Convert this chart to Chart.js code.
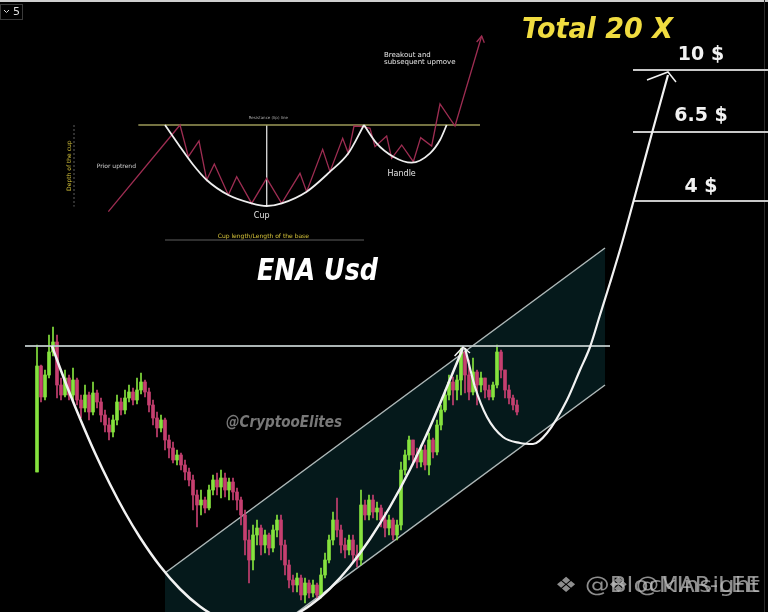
<!DOCTYPE html>
<html>
<head>
<meta charset="utf-8">
<script src="https://cdn.jsdelivr.net/npm/chart.js@4.4.1/dist/chart.umd.min.js"></script>
<style>
html, body { margin: 0; padding: 0; background: #000; overflow: hidden; }
canvas { display: block; }
</style>
</head>
<body>
<canvas id="grafica" width="768" height="612"></canvas>
<script>
// velas de ENA/USD (precio en $), la apertura de cada vela es el cierre anterior
let aperturaInicial = 0.712;
let cierres = [
    1.136, 1.012, 1.10, 1.192, 1.232, 1.06, 1.02, 1.088, 1.02, 1.08,
    1.00, 0.968, 1.02, 0.952, 1.028, 0.992, 0.94, 0.90, 0.872, 0.92,
    0.992, 0.96, 1.008, 1.032, 1.00, 1.04, 1.072, 1.032, 0.98, 0.928,
    0.888, 0.92, 0.84, 0.808, 0.76, 0.78, 0.74, 0.712, 0.68, 0.62,
    0.58, 0.60, 0.568, 0.64, 0.68, 0.652, 0.688, 0.64, 0.672, 0.632,
    0.60, 0.54, 0.44, 0.36, 0.46, 0.488, 0.42, 0.46, 0.408, 0.48,
    0.52, 0.42, 0.34, 0.28, 0.26, 0.288, 0.22, 0.268, 0.228, 0.26,
    0.22, 0.30, 0.36, 0.44, 0.52, 0.48, 0.42, 0.40, 0.44, 0.38,
    0.36, 0.58, 0.54, 0.60, 0.552, 0.568, 0.52, 0.488, 0.52, 0.46,
    0.50, 0.72, 0.78, 0.84, 0.78, 0.752, 0.80, 0.74, 0.84, 0.792,
    0.90, 0.96, 1.02, 1.072, 1.04, 1.08, 1.192, 1.10, 1.032, 1.112,
    1.06, 1.088, 1.04, 1.012, 1.06, 1.192, 1.12, 1.04, 1.008, 0.98,
    0.952
];
let maximos = [
    1.22, 1.14, 1.12, 1.26, 1.292, 1.26, 1.088, 1.12, 1.10, 1.128,
    1.088, 1.02, 1.06, 1.032, 1.072, 1.04, 1.008, 0.96, 0.928, 0.94,
    1.02, 1.008, 1.04, 1.06, 1.048, 1.088, 1.108, 1.08, 1.048, 1.00,
    0.952, 0.94, 0.928, 0.86, 0.832, 0.80, 0.788, 0.76, 0.728, 0.70,
    0.64, 0.64, 0.612, 0.66, 0.70, 0.708, 0.72, 0.708, 0.688, 0.688,
    0.648, 0.612, 0.56, 0.48, 0.50, 0.52, 0.50, 0.48, 0.468, 0.50,
    0.54, 0.54, 0.44, 0.36, 0.30, 0.308, 0.30, 0.288, 0.28, 0.28,
    0.268, 0.328, 0.388, 0.46, 0.552, 0.608, 0.50, 0.448, 0.46, 0.46,
    0.42, 0.64, 0.60, 0.62, 0.62, 0.592, 0.58, 0.552, 0.54, 0.528,
    0.52, 0.752, 0.80, 0.856, 0.84, 0.808, 0.82, 0.82, 0.868, 0.848,
    0.92, 0.98, 1.04, 1.10, 1.092, 1.10, 1.208, 1.192, 1.16, 1.168,
    1.12, 1.112, 1.088, 1.06, 1.072, 1.22, 1.20, 1.12, 1.06, 1.02,
    1.00
];
let minimos = [
    0.712, 0.992, 1.00, 1.088, 1.176, 1.008, 1.00, 1.012, 1.00, 0.992,
    0.98, 0.928, 0.952, 0.92, 0.94, 0.968, 0.912, 0.872, 0.84, 0.852,
    0.90, 0.94, 0.944, 0.992, 0.98, 0.984, 1.024, 1.012, 0.952, 0.90,
    0.852, 0.872, 0.80, 0.768, 0.748, 0.74, 0.72, 0.68, 0.656, 0.56,
    0.492, 0.54, 0.548, 0.56, 0.62, 0.62, 0.608, 0.612, 0.60, 0.60,
    0.56, 0.50, 0.38, 0.268, 0.32, 0.42, 0.38, 0.388, 0.38, 0.392,
    0.452, 0.36, 0.30, 0.248, 0.232, 0.232, 0.20, 0.188, 0.208, 0.212,
    0.208, 0.208, 0.288, 0.348, 0.42, 0.452, 0.388, 0.368, 0.38, 0.352,
    0.332, 0.34, 0.52, 0.52, 0.528, 0.52, 0.492, 0.452, 0.46, 0.44,
    0.44, 0.48, 0.70, 0.76, 0.74, 0.728, 0.732, 0.72, 0.70, 0.768,
    0.78, 0.88, 0.952, 1.00, 0.98, 1.00, 1.02, 1.028, 1.00, 1.02,
    0.98, 1.032, 1.008, 1.00, 1.00, 1.048, 1.088, 1.008, 0.984, 0.96,
    0.94
];

// dibujo sobre el grafico (x = numero de vela, y = precio)
let resistencia = 1.216;
let resistenciaX = [-3, 143.25];
let canalX = [32, 142];
let canalArriba = [0.308, 1.608];
let canalAbajo = [-0.24, 1.06];
let tazaX = [3.75, 5.75, 8.25, 10.75, 14.5, 18.25, 22, 25.75, 30.75, 35.75, 40.75, 45.75, 50.75, 54, 58.25, 63.25, 68.25, 73.25, 78.25, 83.25, 88.25, 93.25, 98.25, 103.25, 106.5];
let tazaY = [1.216, 1.128, 1.024, 0.926, 0.788, 0.663, 0.55, 0.45, 0.336, 0.244, 0.174, 0.126, 0.101, 0.096, 0.103, 0.131, 0.178, 0.246, 0.335, 0.444, 0.573, 0.722, 0.892, 1.082, 1.208];
let asaX = [107, 109.5, 112.5, 116.5, 120.75, 124, 127.5, 132.5, 135.75, 138.25, 140.75, 143.25, 146.25, 149.75, 153.75, 157.75];
let asaY = [1.208, 1.052, 0.932, 0.852, 0.828, 0.824, 0.868, 1.00, 1.12, 1.212, 1.34, 1.468, 1.628, 1.832, 2.068, 2.30];
let flechaTazaX = [104.4, 106.5, 108.25];
let flechaTazaY = [1.176, 1.212, 1.188];
let flechaAsaX = [152.5, 157.75, 159.75];
let flechaAsaY = [2.28, 2.312, 2.272];
let objetivos = [2.32, 2.072, 1.796];
let objetivosX = [149, 183];
let objetivosTexto = ["10 $", "6.5 $", "4 $"];

// esquema de taza y asa (unidades propias del esquema)
let esqResistenciaX = [415, 1440];
let esqResistenciaY = 375;
let esqZigX = [325, 540, 565, 597, 620, 643, 685, 710, 755, 800, 845, 900, 920, 968, 990, 1028, 1045, 1062, 1090, 1110, 1125, 1160, 1175, 1205, 1240, 1262, 1295, 1320, 1365, 1445];
let esqZigY = [635, 375, 470, 423, 540, 492, 585, 530, 610, 535, 610, 520, 575, 448, 515, 415, 460, 378, 380, 385, 440, 408, 475, 435, 485, 413, 438, 312, 378, 108];
let esqTazaX = [495, 540, 580, 620, 685, 755, 800, 845, 920, 990, 1045, 1092];
let esqTazaY = [375, 440, 495, 540, 585, 610, 618, 610, 575, 515, 460, 375];
let esqAsaX = [1092, 1130, 1180, 1235, 1290, 1320, 1340];
let esqAsaY = [375, 430, 470, 488, 460, 420, 375];
let esqFlechaX = [1430, 1445, 1453];
let esqFlechaY = [126, 108, 128];

let verde = "#86e23e";
let rojo = "#c63f70";

let cuerpos = [], mechas = [], colores = [];
for (let i = 0; i < cierres.length; i++) {
    let apertura = i === 0 ? aperturaInicial : cierres[i - 1];
    cuerpos.push({ x: i, y: [apertura, cierres[i]] });
    mechas.push({ x: i, y: [minimos[i], maximos[i]] });
    colores.push(cierres[i] >= apertura ? verde : rojo);
}

function puntos(xs, ys) {
    return xs.map((x, i) => ({ x: x, y: Array.isArray(ys) ? ys[i] : ys }));
}

function linea(datos, color, ancho, extra) {
    return Object.assign({
        type: "line",
        data: datos,
        borderColor: color,
        borderWidth: ancho,
        pointRadius: 0,
        fill: false,
        tension: 0
    }, extra || {});
}

let suave = { cubicInterpolationMode: "monotone" };
let esquema = { xAxisID: "ix", yAxisID: "iy" };

let datasets = [
    linea(puntos(canalX, canalArriba), "#aeb8b8", 1.5, { fill: "+1", backgroundColor: "#05191b", order: 30 }),
    linea(puntos(canalX, canalAbajo), "#aeb8b8", 1.5, { order: 29 }),
    {
        type: "bar", data: mechas, backgroundColor: colores, barThickness: 1,
        grouped: false, borderWidth: 0, order: 20
    },
    {
        type: "bar", data: cuerpos, backgroundColor: colores, barThickness: 3,
        grouped: false, borderWidth: 0, order: 19
    },
    linea(puntos(resistenciaX, resistencia), "rgba(190,200,200,0.9)", 2.2, { order: 10 }),
    linea(puntos(tazaX, tazaY), "#f2f2f2", 2.5, Object.assign({ order: 2 }, suave)),
    linea(puntos(flechaTazaX, flechaTazaY), "#f2f2f2", 1.5, { order: 2 }),
    linea(puntos(asaX, asaY), "#f2f2f2", 2.2, Object.assign({ order: 2 }, suave)),
    linea(puntos(flechaAsaX, flechaAsaY), "#f2f2f2", 1.5, { order: 2 })
];

objetivos.forEach(v => {
    datasets.push(linea(puntos(objetivosX, v), "#c8c8c8", 2, { order: 3 }));
});

// esquema de arriba
datasets.push(linea(puntos(esqResistenciaX, esqResistenciaY), "#9c9a58", 1.5, Object.assign({ order: 6 }, esquema)));
datasets.push(linea(puntos([800, 800], [375, 615]), "#d0d0d0", 1, Object.assign({ order: 6 }, esquema)));
datasets.push(linea(puntos([222, 222], [375, 620]), "#777", 0.8, Object.assign({ order: 6, borderDash: [2, 2] }, esquema)));
datasets.push(linea(puntos([495, 1092], [720, 720]), "#777", 0.8, Object.assign({ order: 6 }, esquema)));
datasets.push(linea(puntos(esqZigX, esqZigY), "#9e2d52", 1.3, Object.assign({ order: 5 }, esquema)));
datasets.push(linea(puntos(esqFlechaX, esqFlechaY), "#9e2d52", 1.3, Object.assign({ order: 5 }, esquema)));
datasets.push(linea(puntos(esqTazaX, esqTazaY), "#eeeeee", 1.8, Object.assign({ order: 4 }, esquema, suave)));
datasets.push(linea(puntos(esqAsaX, esqAsaY), "#eeeeee", 1.8, Object.assign({ order: 4 }, esquema, suave)));

const fondo = {
    id: "fondo",
    beforeDraw(chart) {
        let c = chart.ctx;
        c.save();
        c.fillStyle = "#000";
        c.fillRect(0, 0, chart.width, chart.height);
        c.fillStyle = "#cfcfcf";
        c.fillRect(0, 0, chart.width, 2);
        c.fillStyle = "#2a2a2a";
        c.fillRect(chart.width - 4, 0, 1, chart.height);
        // selector de arriba a la izquierda
        c.strokeStyle = "#3a3a3a";
        c.lineWidth = 1;
        c.strokeRect(0.5, 4.5, 22, 15);
        c.strokeStyle = "#ddd";
        c.beginPath();
        c.moveTo(4, 10); c.lineTo(6.5, 12.5); c.lineTo(9, 10);
        c.stroke();
        c.fillStyle = "#ddd";
        c.font = "11px 'DejaVu Sans'";
        c.textBaseline = "middle";
        c.fillText("5", 13, 12);
        c.restore();
    }
};

function escribir(c, t, px, py, tam, familia, estilo, color, alinear, ancho, giro) {
    c.save();
    c.font = estilo + " " + tam + "px " + familia;
    c.fillStyle = color;
    c.textAlign = alinear;
    c.textBaseline = "alphabetic";
    let k = ancho ? ancho / c.measureText(t).width : 1;
    c.translate(px, py);
    if (giro) c.rotate(giro);
    c.scale(k, 1);
    c.fillText(t, 0, 0);
    c.restore();
}

const textos = {
    id: "textos",
    afterDatasetsDraw(chart) {
        let c = chart.ctx;
        let s = chart.scales;
        let X = v => s.x.getPixelForValue(v), Y = v => s.y.getPixelForValue(v);
        let IX = v => s.ix.getPixelForValue(v), IY = v => s.iy.getPixelForValue(v);
        let fam = "'DejaVu Sans', Verdana, sans-serif";

        escribir(c, "Total 20 X", X(121.25), Y(2.448), 29, fam, "italic bold", "#f0dc40", "left", 151);
        escribir(c, "ENA Usd", X(55), Y(1.48), 30, fam, "italic bold", "#ffffff", "left", 121);
        escribir(c, "@CryptooElites", X(47.25), Y(0.892), 16, fam, "italic bold", "rgba(150,150,150,0.8)", "left", 116);

        let bases = [2.36, 2.116, 1.832];
        objetivosTexto.forEach((t, i) => {
            escribir(c, t, X(166), Y(bases[i]), 19, fam, "bold", "#f2f2f2", "center");
        });

        escribir(c, "\u2756 @BlockInsight", X(129.5), Y(0.232), 21, fam, "", "rgba(190,190,190,0.75)", "left", 205);
        escribir(c, "\u2756 @MAR-LEE", X(142.75), Y(0.232), 21, fam, "", "rgba(190,190,190,0.75)", "left", 152);

        escribir(c, "Prior uptrend", IX(290), IY(505), 6, fam, "", "#d0d0d0", "left");
        escribir(c, "Depth of the cup", IX(213), IY(497), 6, fam, "", "#d4c23a", "center", null, -Math.PI / 2);
        escribir(c, "Cup", IX(785), IY(655), 8, fam, "", "#e6e6e6", "center");
        escribir(c, "Handle", IX(1205), IY(528), 8, fam, "", "#e6e6e6", "center");
        escribir(c, "Breakout and", IX(1152), IY(170), 7, fam, "", "#e6e6e6", "left");
        escribir(c, "subsequent upmove", IX(1152), IY(192), 7, fam, "", "#e6e6e6", "left");
        escribir(c, "Cup length/Length of the base", IX(790), IY(715), 6, fam, "", "#d4c23a", "center");
        escribir(c, "Resistance (lip) line", IX(805), IY(358), 4, fam, "", "#aaaaaa", "center");
    }
};

let ctx = document.getElementById("grafica").getContext("2d");

let grafica = new Chart(ctx, {
    type: "bar",
    data: { datasets: datasets },
    options: {
        responsive: false,
        animation: false,
        layout: { padding: 0 },
        plugins: { legend: { display: false }, tooltip: { enabled: false } },
        scales: {
            x: { type: "linear", min: -9.25, max: 182.75, display: false, offset: false },
            y: { type: "linear", min: 0.152, max: 2.6, display: false },
            ix: { type: "linear", axis: "x", min: 0, max: 2304, display: false, offset: false },
            iy: { type: "linear", axis: "y", min: 0, max: 1836, reverse: true, display: false }
        }
    },
    plugins: [fondo, textos]
});
</script>
</body>
</html>
